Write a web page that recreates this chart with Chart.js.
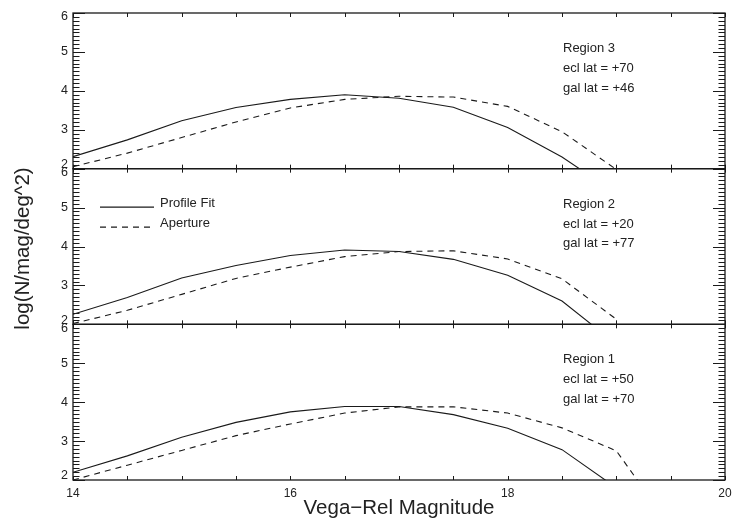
<!DOCTYPE html>
<html>
<head>
<meta charset="utf-8">
<script src="https://cdn.jsdelivr.net/npm/chart.js@4.4.1/dist/chart.umd.min.js"></script>
<style>
  html, body { margin: 0; padding: 0; background: #fff; }
  #wrap { width: 734px; height: 525px; }
</style>
</head>
<body>
<div id="wrap"><canvas id="lfChart" width="734" height="525"></canvas></div>
<script>
// magnitude bins (x) shared by every panel
const magnitudes = [14, 14.5, 15, 15.5, 16, 16.5, 17, 17.5, 18, 18.5, 19, 19.5];

// Region 3 (top panel)
const profile3 = [2.31, 2.74, 3.23, 3.57, 3.78, 3.90, 3.81, 3.58, 3.06, 2.30, 1.36, null];
const aperture3 = [2.05, 2.40, 2.80, 3.20, 3.56, 3.78, 3.86, 3.84, 3.60, 2.95, 1.98, null];

// Region 2 (middle panel)
const profile2 = [2.26, 2.69, 3.19, 3.51, 3.77, 3.91, 3.87, 3.67, 3.26, 2.60, 1.49, null];
const aperture2 = [2.02, 2.36, 2.77, 3.18, 3.47, 3.74, 3.87, 3.89, 3.68, 3.17, 2.13, null];

// Region 1 (bottom panel)
const profile1 = [2.20, 2.62, 3.10, 3.48, 3.75, 3.89, 3.89, 3.68, 3.33, 2.78, 1.80, null];
const aperture1 = [2.00, 2.38, 2.76, 3.14, 3.44, 3.72, 3.88, 3.88, 3.72, 3.34, 2.75, 0.80];

const xTicks = [14, 16, 18, 20];
const yTicks = [2, 3, 4, 5, 6];

const panelNotes = {
  yR3: ["Region 3", "ecl lat = +70", "gal lat = +46"],
  yR2: ["Region 2", "ecl lat = +20", "gal lat = +77"],
  yR1: ["Region 1", "ecl lat = +50", "gal lat = +70"],
};
const seriesNames = ["Profile Fit", "Aperture"];

const ink = "#1a1a1a";
Chart.defaults.font.family = "'Liberation Sans', Arial, Helvetica, sans-serif";
Chart.defaults.color = "#222";

function toPoints(vals) {
  const pts = [];
  magnitudes.forEach((m, i) => {
    if (vals[i] !== null) pts.push({ x: m, y: vals[i] });
  });
  return pts;
}

function series(label, vals, axis, dashed) {
  return {
    label: label,
    data: toPoints(vals),
    yAxisID: axis,
    borderColor: ink,
    borderWidth: 1.1,
    borderDash: dashed ? [6, 5] : [],
    pointRadius: 0,
    tension: 0,
    fill: false,
  };
}

function panelScale(weight) {
  return {
    type: "linear",
    position: "left",
    stack: "panels",
    stackWeight: 1,
    weight: weight,
    min: 2,
    max: 6,
    grid: { display: false, drawTicks: false },
    border: { display: false },
    afterBuildTicks: (s) => { s.ticks = yTicks.map((v) => ({ value: v })); },
    ticks: {
      autoSkip: false,
      padding: 5,
      font: { size: 12.5, lineHeight: "8px" },
      // nudge the end labels apart where panels touch
      callback: (v) => (v === 6 ? ["", "6"] : v === 2 ? ["2", ""] : String(v)),
    },
    afterFit: (s) => { s.width = 66; },
  };
}

// clip each line to its own panel
const panelClip = {
  id: "panelClip",
  beforeDatasetDraw(chart, args) {
    const y = args.meta.yScale;
    const a = chart.chartArea;
    chart.ctx.save();
    chart.ctx.beginPath();
    chart.ctx.rect(a.left, y.top, a.right - a.left, y.bottom - y.top);
    chart.ctx.clip();
  },
  afterDatasetDraw(chart) {
    chart.ctx.restore();
  },
};

// frames, inward ticks, notes, legend, y title
const decorations = {
  id: "decorations",
  afterDraw(chart) {
    const ctx = chart.ctx;
    const a = chart.chartArea;
    const xs = chart.scales.x;
    ctx.save();
    ctx.strokeStyle = ink;
    ctx.fillStyle = "#222";

    ["yR3", "yR2", "yR1"].forEach((id) => {
      const s = chart.scales[id];
      ctx.lineWidth = 1.3;
      ctx.strokeRect(a.left, s.top, a.right - a.left, s.bottom - s.top);

      ctx.lineWidth = 1;
      ctx.beginPath();
      for (let k = 0; k <= 40; k++) {
        const v = 2 + k / 10;
        const py = Math.round(s.getPixelForValue(v)) + 0.5;
        const len = k % 10 === 0 ? 12 : 6.5;
        ctx.moveTo(a.left, py);
        ctx.lineTo(a.left + len, py);
        ctx.moveTo(a.right, py);
        ctx.lineTo(a.right - len, py);
      }
      for (let k = 0; k <= 12; k++) {
        const px = Math.round(xs.getPixelForValue(14 + k / 2)) + 0.5;
        ctx.moveTo(px, s.top);
        ctx.lineTo(px, s.top + 4);
        ctx.moveTo(px, s.bottom);
        ctx.lineTo(px, s.bottom - 4);
      }
      ctx.stroke();

      ctx.font = "13px 'Liberation Sans', Arial, sans-serif";
      ctx.textAlign = "left";
      ctx.textBaseline = "middle";
      panelNotes[id].forEach((t, i) => {
        ctx.fillText(t, 563, s.top + 35.5 + i * 19.8);
      });
    });

    // legend inside the middle panel
    const mid = chart.scales.yR2;
    const ly = [mid.top + 38.5, mid.top + 58.5];
    ctx.lineWidth = 1.1;
    ctx.beginPath();
    ctx.moveTo(100, ly[0]);
    ctx.lineTo(154, ly[0]);
    ctx.stroke();
    ctx.setLineDash([6, 5]);
    ctx.beginPath();
    ctx.moveTo(100, ly[1]);
    ctx.lineTo(154, ly[1]);
    ctx.stroke();
    ctx.setLineDash([]);
    ctx.font = "13px 'Liberation Sans', Arial, sans-serif";
    ctx.textAlign = "left";
    ctx.textBaseline = "middle";
    ctx.fillText(seriesNames[0], 160, ly[0] - 3.5);
    ctx.fillText(seriesNames[1], 160, ly[1] - 3.5);

    // y axis title spanning all panels
    ctx.translate(23, (a.top + a.bottom) / 2 + 2);
    ctx.rotate(-Math.PI / 2);
    ctx.textAlign = "center";
    ctx.font = "20.5px 'Liberation Sans', Arial, sans-serif";
    ctx.fillText("log(N/mag/deg^2)", 0, 0);
    ctx.restore();
  },
};

const ctx = document.getElementById("lfChart").getContext("2d");
const lfChart = new Chart(ctx, {
  type: "line",
  data: {
    datasets: [
      series(seriesNames[0], profile3, "yR3", false),
      series(seriesNames[1], aperture3, "yR3", true),
      series(seriesNames[0], profile2, "yR2", false),
      series(seriesNames[1], aperture2, "yR2", true),
      series(seriesNames[0], profile1, "yR1", false),
      series(seriesNames[1], aperture1, "yR1", true),
    ],
  },
  options: {
    responsive: false,
    animation: false,
    devicePixelRatio: 1,
    layout: { padding: { left: 7, right: 9, top: 8, bottom: 0 } },
    plugins: {
      legend: { display: false },
      tooltip: { enabled: false },
    },
    scales: {
      x: {
        type: "linear",
        position: "bottom",
        min: 14,
        max: 20,
        grid: { display: false, drawTicks: false },
        border: { display: false },
        afterBuildTicks: (s) => { s.ticks = xTicks.map((v) => ({ value: v })); },
        ticks: { autoSkip: false, maxRotation: 0, padding: 6, font: { size: 12 } },
        title: {
          display: true,
          text: "Vega\u2212Rel Magnitude",
          font: { size: 20.5 },
          padding: { top: 0, bottom: 4 },
        },
        afterFit: (s) => {
          s.height = 45;
          s.paddingLeft = 0;
          s.paddingRight = 0;
        },
      },
      yR1: panelScale(1),
      yR2: panelScale(2),
      yR3: panelScale(3),
    },
  },
  plugins: [panelClip, decorations],
});
</script>
</body>
</html>
